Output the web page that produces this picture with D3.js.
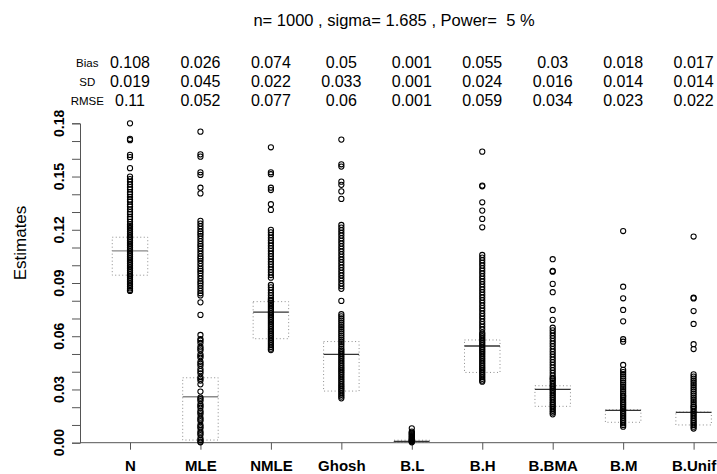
<!DOCTYPE html>
<html>
<head>
<meta charset="utf-8">
<script src="https://cdn.jsdelivr.net/npm/d3@7"></script>
<style>
    body { margin: 0; background: white; }
    svg { font-family: "Liberation Sans", Arial, Helvetica, sans-serif; }
    .axis_line { stroke: #555; stroke-width: 1; }
    .box_rect { fill: none; stroke: #8c8c8c; stroke-width: 1; stroke-dasharray: 1, 2.5; }
    .est_point { fill: none; stroke: #000; stroke-width: 1.05; }
</style>
</head>
<body>
<svg id="chart" width="717" height="474"></svg>
<script>

// methods
const categories = ['N', 'MLE', 'NMLE', 'Ghosh', 'B.L', 'B.H', 'B.BMA', 'B.M', 'B.Unif'];

// summary rows on top
const biasVals = ['0.108', '0.026', '0.074', '0.05', '0.001', '0.055', '0.03', '0.018', '0.017'];
const sdVals   = ['0.019', '0.045', '0.022', '0.033', '0.001', '0.024', '0.016', '0.014', '0.014'];
const rmseVals = ['0.11', '0.052', '0.077', '0.06', '0.001', '0.059', '0.034', '0.023', '0.022'];

// box stats
const q1Vals  = [0.0944, 0.0015, 0.0586, 0.0291, 0.0002, 0.0396, 0.0205, 0.0115, 0.0100];
const medVals = [0.1081, 0.0259, 0.0736, 0.0498, 0.0008, 0.0545, 0.0301, 0.0182, 0.0171];
const q3Vals  = [0.1158, 0.0366, 0.0795, 0.0570, 0.0014, 0.0579, 0.0321, 0.0186, 0.0173];

// y ticks
const yTicks = [0, 0.01, 0.02, 0.03, 0.04, 0.05, 0.06, 0.07, 0.08, 0.09, 0.10,
                0.11, 0.12, 0.13, 0.14, 0.15, 0.16, 0.17, 0.18];
const yLabels = ['0.00', '0.03', '0.06', '0.09', '0.12', '0.15', '0.18'];

// estimates per method
const estN = [0.180, 0.1712, 0.1705, 0.1622, 0.1609, 0.1547, 0.150,
    0.1485, 0.147, 0.1455, 0.144, 0.1428, 0.1412, 0.140, 0.1385, 0.137, 0.1358, 0.1342, 0.133,
    0.1315, 0.130, 0.1288, 0.1272, 0.126, 0.1245, 0.123,
    0.122, 0.121, 0.120, 0.119, 0.118, 0.117, 0.116, 0.115, 0.114, 0.113, 0.112, 0.111, 0.110,
    0.109, 0.108, 0.107, 0.106, 0.105, 0.104, 0.103, 0.102, 0.101, 0.100, 0.099, 0.098, 0.097,
    0.096, 0.095, 0.094, 0.093, 0.092, 0.091, 0.090, 0.089, 0.088, 0.087, 0.086, 0.0855];

const estMLE = [0.1753, 0.1625, 0.1612, 0.1524, 0.1509, 0.1437, 0.1405,
    0.125, 0.1235, 0.122, 0.1205, 0.119, 0.1178, 0.1165, 0.115, 0.1135, 0.112, 0.1108, 0.1095,
    0.108, 0.1065, 0.105, 0.1038, 0.1025, 0.101, 0.0995, 0.098, 0.0968, 0.0955, 0.094, 0.0925,
    0.091, 0.0898, 0.0885, 0.087, 0.0855, 0.0842, 0.083,
    0.0791, 0.0720,
    0.0607, 0.0584, 0.0575, 0.0562, 0.0541, 0.0530, 0.0520, 0.0498, 0.0488, 0.0479, 0.0456,
    0.0445, 0.0434, 0.0415, 0.0403, 0.0391, 0.0370, 0.0360, 0.0350, 0.0329, 0.0288, 0.0254,
    0.0245, 0.0235, 0.0216, 0.0207, 0.0197, 0.0179, 0.0170, 0.0160, 0.0141, 0.0131, 0.0122,
    0.0100, 0.0090, 0.0081, 0.0062, 0.0052, 0.0043, 0.0024, 0.0015, 0.0006, 0.0002];

const estNMLE = [0.1665, 0.1524, 0.1513, 0.1437, 0.1424, 0.1344, 0.1312,
    0.1199, 0.1185, 0.117, 0.1155, 0.114, 0.1125, 0.111, 0.1095, 0.108, 0.1065, 0.105, 0.1035,
    0.102, 0.1005, 0.099, 0.0975, 0.096, 0.0945, 0.093,
    0.0889, 0.0875, 0.086, 0.0845, 0.083, 0.0815, 0.0805,
    0.080, 0.079, 0.078, 0.077, 0.076, 0.075, 0.074, 0.073, 0.072, 0.071, 0.070, 0.069, 0.068,
    0.067, 0.066, 0.065, 0.064, 0.063, 0.062, 0.061, 0.060, 0.059, 0.058, 0.057, 0.056, 0.055,
    0.054, 0.053, 0.0522];

const estGhosh = [0.1708, 0.1569, 0.1556, 0.1471, 0.1453, 0.1416, 0.1374,
    0.1227, 0.1212, 0.1197, 0.1182, 0.1167, 0.1152, 0.1137, 0.1122, 0.1107, 0.1092, 0.1077,
    0.1062, 0.1047, 0.1032, 0.1017, 0.1002, 0.0987, 0.0972, 0.0957, 0.0942, 0.0927, 0.0912,
    0.0897, 0.0882, 0.0867,
    0.0799,
    0.0724, 0.0712, 0.070, 0.0688, 0.0676, 0.0664, 0.0652, 0.064, 0.0628, 0.0616, 0.0604,
    0.0592, 0.058, 0.0568, 0.0556, 0.0544,
    0.053, 0.052, 0.051, 0.050, 0.049, 0.048, 0.047, 0.046, 0.045, 0.044, 0.043, 0.042, 0.041,
    0.040, 0.039, 0.038, 0.037, 0.036, 0.035, 0.034, 0.033, 0.032, 0.031, 0.030, 0.029, 0.028,
    0.027, 0.026, 0.025];

const estBL = [0.0081, 0.0062, 0.0057, 0.0052, 0.0047, 0.0042, 0.0037, 0.0032, 0.0027,
    0.0022, 0.0018, 0.0014, 0.0010, 0.0006, 0.0002];

const estBH = [0.164, 0.1449, 0.1445, 0.1355, 0.1308, 0.1261, 0.1214,
    0.1058, 0.1043, 0.1028, 0.1013, 0.0998, 0.0983, 0.0968, 0.0953, 0.0938, 0.0923, 0.0908,
    0.0893, 0.0878, 0.0863, 0.0848, 0.0833, 0.0818, 0.0803, 0.0788, 0.0773, 0.0758, 0.0743,
    0.0728, 0.0713, 0.0698, 0.0683, 0.0668, 0.0653, 0.0638,
    0.062, 0.061, 0.060, 0.059, 0.058, 0.057, 0.056, 0.055, 0.054, 0.053, 0.052, 0.051, 0.050,
    0.049, 0.048, 0.047, 0.046, 0.045, 0.044, 0.043, 0.042, 0.041, 0.040, 0.039, 0.038, 0.037,
    0.036, 0.035, 0.0344];

const estBBMA = [0.1034, 0.0968, 0.0964, 0.0895, 0.0848, 0.0748, 0.0692,
    0.0648, 0.0633, 0.0618, 0.0603, 0.0588, 0.0573, 0.0558, 0.0543, 0.0528, 0.0513, 0.0498,
    0.0483, 0.0468, 0.0453, 0.0438, 0.0423, 0.0408, 0.0393, 0.0378, 0.0365,
    0.036, 0.035, 0.034, 0.033, 0.032, 0.031, 0.030, 0.029, 0.028, 0.027, 0.026, 0.025, 0.024,
    0.023, 0.022, 0.021, 0.020, 0.019, 0.018, 0.017, 0.016];

const estBM = [0.1193, 0.0879, 0.0814, 0.0748, 0.0684, 0.0583, 0.0569, 0.0438,
    0.041, 0.0398, 0.0386, 0.0374, 0.0362, 0.035, 0.0338, 0.0326, 0.0314, 0.0302, 0.029,
    0.0278, 0.0266,
    0.026, 0.025, 0.024, 0.023, 0.022, 0.021, 0.020, 0.019, 0.018, 0.017, 0.016, 0.015, 0.014,
    0.013, 0.012, 0.011, 0.010, 0.009];

const estBUnif = [0.1162, 0.0817, 0.0813, 0.0742, 0.0669, 0.0555, 0.0528,
    0.0385, 0.0373, 0.0361, 0.0349, 0.0337, 0.0325, 0.0313, 0.0301, 0.0289, 0.0277, 0.0265,
    0.0253, 0.0241, 0.0229, 0.0217, 0.0205,
    0.020, 0.019, 0.018, 0.017, 0.016, 0.015, 0.014, 0.013, 0.012, 0.011, 0.010, 0.009, 0.008];

const estimates = [estN, estMLE, estNMLE, estGhosh, estBL, estBH, estBBMA, estBM, estBUnif];


class EstimateBoxView {

    constructor(svg) {
        this.svg = svg.append('g');
        this.left = 80;
        this.right = 717;
        this.top = 123.3;
        this.bottom = 442.7;
        this.boxWidth = 35.5;
    }

    init() {
        this.svg.html('');
        this.x_axis = d3.scalePoint().domain(categories).range([130, 693.6]);
        this.y_axis = d3.scaleLinear().domain([0, 0.18]).range([this.bottom, this.top]);
    }

    draw() {
        this.init();
        this.draw_header();
        this.draw_axes();
        this.draw_boxes();
        this.draw_points();
    }

    draw_header() {
        //title (keep the double space before 5)
        this.svg.append('text')
            .attr('x', 394)
            .attr('y', 26)
            .attr('text-anchor', 'middle')
            .style('font-size', '16.5px')
            .style('white-space', 'pre')
            .text('n= 1000 , sigma= 1.685 , Power=  5 %');

        //summary rows
        let rows = [['Bias', biasVals, 68.3], ['SD', sdVals, 87.3], ['RMSE', rmseVals, 106]];
        rows.forEach((r) => {
            this.svg.append('text')
                .attr('x', 87.3)
                .attr('y', r[2] - 1.5)
                .attr('text-anchor', 'middle')
                .style('font-size', '11.5px')
                .text(r[0]);

            this.svg.append('g')
                .selectAll('text')
                .data(r[1])
                .enter()
                .append('text')
                .attr('x', (d, i) => this.x_axis(categories[i]))
                .attr('y', r[2])
                .attr('text-anchor', 'middle')
                .style('font-size', '16px')
                .text((d) => d);
        });
    }

    draw_axes() {
        //y axis, labels only every 0.03
        let yg = this.svg.append('g')
            .attr('transform', 'translate(' + this.left + ',0)')
            .call(d3.axisLeft(this.y_axis).tickValues(yTicks).tickSize(8).tickFormat(''));
        yg.select('.domain').attr('stroke', '#555');
        yg.selectAll('.tick line').attr('stroke', '#555');

        this.svg.append('g')
            .selectAll('text')
            .data(yLabels)
            .enter()
            .append('text')
            .attr('transform', (d) => 'translate(64,' + this.y_axis(+d) + ') rotate(-90)')
            .attr('text-anchor', 'middle')
            .style('font-size', '14px')
            .style('font-weight', 'bold')
            .text((d) => d);

        this.svg.append('text')
            .attr('transform', 'translate(26,243) rotate(-90)')
            .attr('text-anchor', 'middle')
            .style('font-size', '17px')
            .text('Estimates');

        //x axis line runs to the edge
        this.svg.append('line')
            .attr('class', 'axis_line')
            .attr('x1', this.left)
            .attr('x2', this.right)
            .attr('y1', this.bottom)
            .attr('y2', this.bottom);

        let xg = this.svg.append('g')
            .attr('transform', 'translate(0,' + this.bottom + ')')
            .call(d3.axisBottom(this.x_axis).tickSize(7).tickPadding(11));
        xg.select('.domain').remove();
        xg.selectAll('.tick line').attr('stroke', '#555');
        xg.selectAll('.tick text')
            .attr('fill', '#000')
            .style('font-size', '15px')
            .style('font-weight', 'bold')
            .style('font-family', '"Liberation Sans", Arial, sans-serif');
    }

    draw_boxes() {
        let bw = this.boxWidth;

        this.svg.append('g')
            .selectAll('.box_rect')
            .data(categories)
            .enter()
            .append('rect')
            .attr('class', 'box_rect')
            .attr('x', (d) => this.x_axis(d) - bw / 2)
            .attr('y', (d, i) => this.y_axis(q3Vals[i]))
            .attr('width', bw)
            .attr('height', (d, i) => this.y_axis(q1Vals[i]) - this.y_axis(q3Vals[i]));

        this.svg.append('g')
            .selectAll('line')
            .data(categories)
            .enter()
            .append('line')
            .attr('x1', (d) => this.x_axis(d) - bw / 2)
            .attr('x2', (d) => this.x_axis(d) + bw / 2)
            .attr('y1', (d, i) => this.y_axis(medVals[i]))
            .attr('y2', (d, i) => this.y_axis(medVals[i]))
            .attr('stroke', (d, i) => i < 2 ? '#8a8a8a' : '#333')
            .attr('stroke-width', 1.3);
    }

    draw_points() {
        let flat = [];
        estimates.forEach((arr, i) => {
            arr.forEach((v) => flat.push([categories[i], v]));
        });

        this.svg.append('g')
            .selectAll('.est_point')
            .data(flat)
            .enter()
            .append('circle')
            .attr('class', 'est_point')
            .attr('cx', (d) => this.x_axis(d[0]))
            .attr('cy', (d) => this.y_axis(d[1]))
            .attr('r', 2.6);
    }
}

let view = new EstimateBoxView(d3.select('#chart'));
view.draw();

</script>
</body>
</html>
